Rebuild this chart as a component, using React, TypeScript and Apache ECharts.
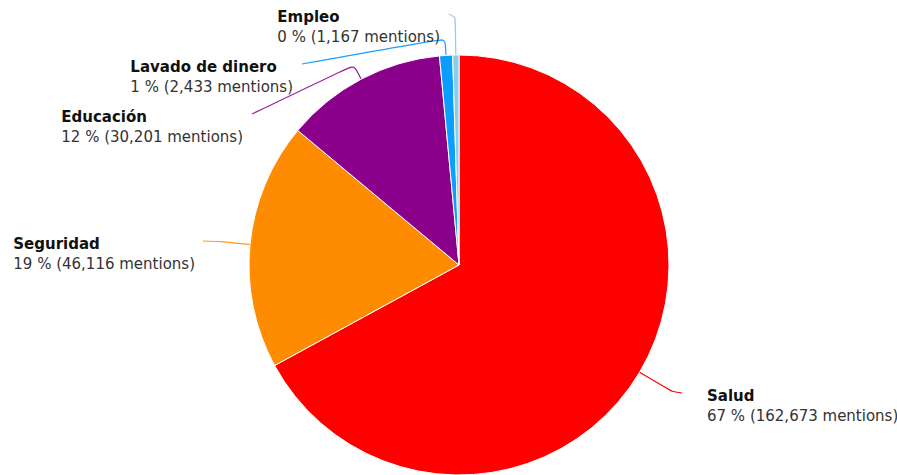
import React, { useEffect, useRef } from "react";
import * as echarts from "echarts";

// ---- data ----
const categories = ["Salud", "Seguridad", "Educación", "Lavado de dinero", "Empleo"];
const mentions = [162673, 46116, 30201, 2433, 1167];
const percentLabels = ["67", "19", "12", "1", "0"];

// ---- styles / layout (not data) ----
const sliceColors = ["#FF0000", "#FF8C00", "#8B008B", "#0A9EFF", "#87CEEB"];
const lineColors = ["#FF0000", "#FF9A20", "#A020A0", "#1AA0FF", "#8FCCEE"];
const radialLineLength = [38, 30, 16, 17, 38];
const labelLineEnd: number[][] = [
  [682, 393],
  [203, 241],
  [252, 114],
  [302, 64],
  [449, 14],
];
const labelGap = [25, 8, 9, 9, 9];
const FONT = "DejaVu Sans";

export default function App() {
  const ref = useRef<HTMLDivElement>(null);

  useEffect(() => {
    if (!ref.current) return;
    const chart = echarts.init(ref.current, undefined, { renderer: "svg" });
    const cx = 459;
    const fmt = (n: number) => n.toLocaleString("en-US");
    chart.setOption({
      animation: false,
      backgroundColor: "#ffffff",
      series: [
        {
          type: "pie",
          center: [459, 265],
          radius: 210,
          startAngle: 90,
          clockwise: true,
          avoidLabelOverlap: false,
          itemStyle: { borderColor: "#ffffff", borderWidth: 1 },
          label: {
            show: true,
            position: "outside",
            overflow: "none",
            bleedMargin: 0,
            fontFamily: FONT,
            formatter: (p: any) =>
              `{name|${p.name}}\n{val|${percentLabels[p.dataIndex]} % (${fmt(p.value)} mentions)}`,
            rich: {
              name: {
                fontFamily: FONT,
                fontWeight: "bold",
                fontSize: 15,
                color: "#111111",
                lineHeight: 20,
                align: "left",
              },
              val: {
                fontFamily: FONT,
                fontSize: 15,
                color: "#333333",
                lineHeight: 20,
                align: "left",
              },
            },
          },
          labelLine: { show: true, smooth: 0.2, length: 20, length2: 5, lineStyle: { width: 1.2 } },
          labelLayout: (params: any) => {
            const i = params.dataIndex;
            const pts = params.labelLinePoints || [];
            const end = labelLineEnd[i];
            const isLeft = end[0] < cx;
            const x = isLeft ? end[0] - labelGap[i] : end[0] + labelGap[i];
            const y = end[1] - 7;
            const linePts = pts.length >= 2 ? [pts[0], pts[1], end] : undefined;
            const out: any = {
              x,
              y,
              align: isLeft ? "right" : "left",
              verticalAlign: "top",
            };
            if (linePts) out.labelLinePoints = linePts;
            return out;
          },
          data: categories.map((name, i) => ({
            name,
            value: mentions[i],
            itemStyle: { color: sliceColors[i] },
            labelLine: { length: radialLineLength[i], lineStyle: { color: lineColors[i] } },
          })),
        },
      ],
    });
    return () => chart.dispose();
  }, []);

  return (
    <div
      ref={ref}
      style={{ position: "absolute", left: 0, top: 0, width: 897, height: 475 }}
    />
  );
}
